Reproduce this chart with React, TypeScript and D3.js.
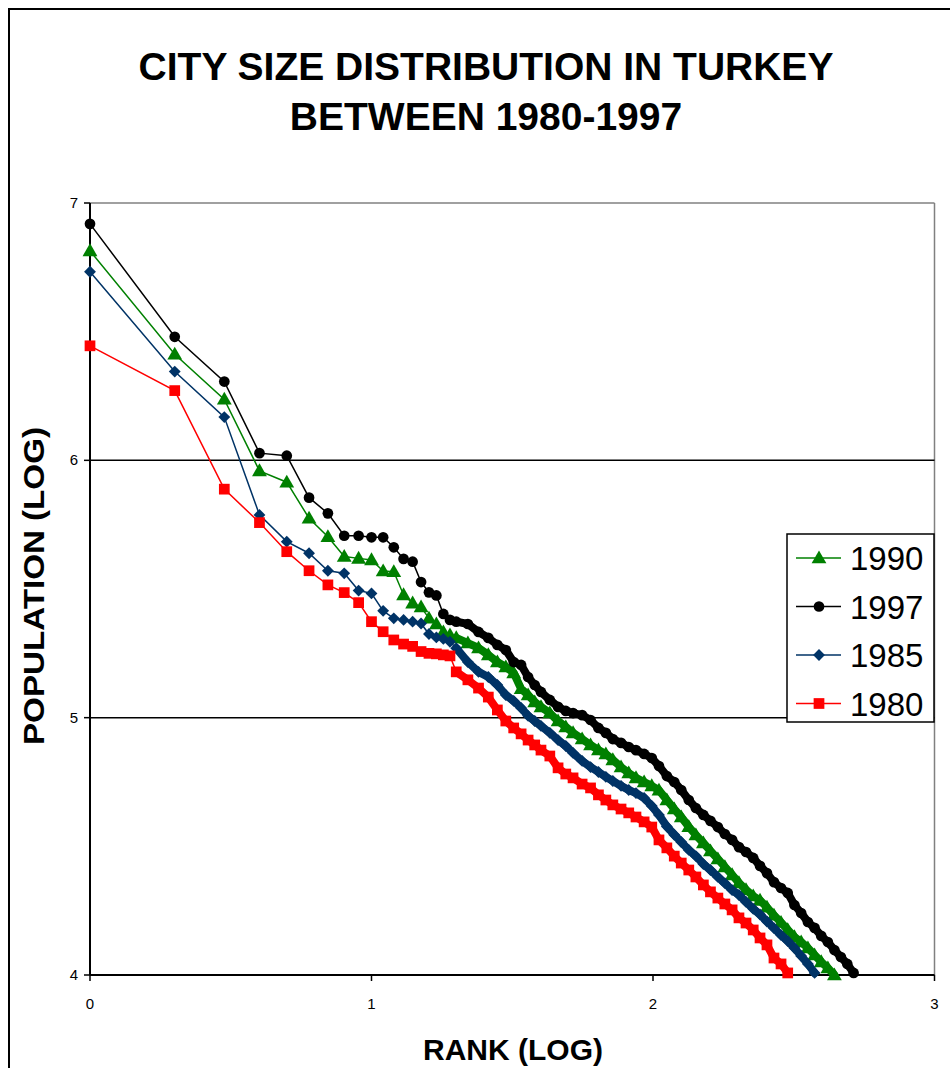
import React from 'react';
import * as d3 from 'd3';

// city ranks (sampled in the dense tail), and log10 population per series
const ranks = [1, 2, 3, 4, 5, 6, 7, 8, 9, 10, 11, 12, 13, 14, 15, 16, 17, 18, 19, 20,
  22, 24, 26, 28, 30, 32, 34, 36, 38, 40, 43, 46, 49, 52, 56, 60, 64, 68, 72, 77, 82, 87, 93, 99,
  105, 112, 119, 126, 134, 142, 151, 160, 170, 180, 191, 202, 214, 227, 240, 254, 269, 285, 301,
  318, 336, 355, 375, 396, 418, 441, 465, 490, 516];

const pop1990 = [6.814, 6.412, 6.237, 5.959, 5.915, 5.775, 5.703, 5.626, 5.619, 5.613, 5.570, 5.567,
  5.477, 5.445, 5.430, 5.386, 5.364, 5.333, 5.321, 5.310,
  5.290, 5.271, 5.244, 5.216, 5.197, 5.174, 5.112, 5.088, 5.061, 5.042, 5.018, 4.987, 4.964, 4.941,
  4.917, 4.894, 4.874, 4.859, 4.836, 4.808, 4.785, 4.766, 4.750, 4.735, 4.718, 4.680, 4.645, 4.614,
  4.576, 4.544, 4.513, 4.482, 4.451, 4.420, 4.389, 4.358, 4.331, 4.307, 4.290, 4.263, 4.232, 4.204,
  4.176, 4.148, 4.128, 4.105, 4.078, 4.051, 4.027, 4.000];

const pop1997 = [6.919, 6.480, 6.306, 6.028, 6.018, 5.855, 5.794, 5.707, 5.707, 5.701, 5.701, 5.662,
  5.617, 5.606, 5.527, 5.487, 5.475, 5.403, 5.380, 5.373,
  5.364, 5.333, 5.310, 5.283, 5.263, 5.216, 5.205, 5.158, 5.127, 5.100, 5.069, 5.042, 5.026, 5.018,
  5.010, 4.991, 4.960, 4.941, 4.917, 4.902, 4.886, 4.874, 4.859, 4.843, 4.812, 4.773, 4.750, 4.719,
  4.680, 4.649, 4.622, 4.599, 4.575, 4.548, 4.525, 4.497, 4.478, 4.455, 4.424, 4.396, 4.361, 4.338,
  4.319, 4.272, 4.241, 4.206, 4.183, 4.152, 4.128, 4.097, 4.070, 4.043, 4.008];

const pop1985 = [6.733, 6.345, 6.168, 5.788, 5.684, 5.639, 5.571, 5.561, 5.494, 5.483, 5.415, 5.386,
  5.380, 5.373, 5.366, 5.325, 5.312, 5.306, 5.295, 5.270,
  5.216, 5.178, 5.158, 5.127, 5.088, 5.065, 5.038, 5.007, 4.987, 4.968, 4.941, 4.913, 4.890, 4.863,
  4.832, 4.808, 4.789, 4.770, 4.754, 4.735, 4.719, 4.707, 4.688, 4.657, 4.622, 4.577, 4.545, 4.517,
  4.486, 4.462, 4.431, 4.408, 4.381, 4.357, 4.330, 4.311, 4.284, 4.257, 4.235, 4.208, 4.182, 4.155,
  4.132, 4.105, 4.074, 4.043, 4.008];

const pop1980 = [6.445, 6.271, 5.888, 5.758, 5.645, 5.571, 5.516, 5.486, 5.447, 5.373, 5.334, 5.302,
  5.286, 5.277, 5.257, 5.250, 5.248, 5.244, 5.240, 5.178,
  5.147, 5.115, 5.080, 5.030, 4.987, 4.960, 4.937, 4.913, 4.894, 4.874, 4.851, 4.805, 4.781, 4.766,
  4.742, 4.727, 4.700, 4.680, 4.661, 4.645, 4.630, 4.614, 4.595, 4.575, 4.525, 4.494, 4.462, 4.435,
  4.408, 4.381, 4.350, 4.323, 4.299, 4.276, 4.253, 4.222, 4.202, 4.175, 4.144, 4.117, 4.066, 4.043,
  4.008];

const xTicks = [0, 1, 2, 3];
const yTicks = [4, 5, 6, 7];

const series = [
  { name: '1990', values: pop1990, color: '#008000', shape: 'triangle' },
  { name: '1997', values: pop1997, color: '#000000', shape: 'circle' },
  { name: '1985', values: pop1985, color: '#003366', shape: 'diamond' },
  { name: '1980', values: pop1980, color: '#ff0000', shape: 'square' },
];

const width = 950;
const height = 1068;
const plot = { left: 90, right: 934.5, top: 203, bottom: 975 };
const font = 'Arial, "Liberation Sans", Helvetica, sans-serif';
const denseFrom = 20; // from this rank on the markers overlap into a solid band

const symbols = {
  triangle: d3.symbol().type(d3.symbolTriangle).size(95)(),
  circle: d3.symbol().type(d3.symbolCircle).size(90)(),
  diamond: d3.symbol().type(d3.symbolSquare).size(70)(),
  square: d3.symbol().type(d3.symbolSquare).size(115)(),
};

function Marker({ shape, color, x, y }) {
  const rot = shape === 'diamond' ? ' rotate(45)' : '';
  const dy = shape === 'triangle' ? 1 : 0;
  return <path d={symbols[shape]} transform={`translate(${x},${y + dy})${rot}`} fill={color} />;
}

export default function App() {
  const x = d3.scaleLinear().domain([0, 3]).range([plot.left, plot.right]);
  const y = d3.scaleLinear().domain([4, 7]).range([plot.bottom, plot.top]);

  const line = d3.line<[number, number]>()
    .x(d => x(Math.log10(d[0])))
    .y(d => y(d[1]));

  const legend = { x: 787, y: 534, w: 147, h: 188, row: 48.5 };

  return (
    <svg width={width} height={height} style={{ position: 'absolute', left: 0, top: 0, background: '#fff' }}>
      <rect x={9} y={9} width={width + 20} height={height + 20} fill="#fff" stroke="#000" strokeWidth={2} />

      <text x={486} y={80} textAnchor="middle" fontFamily={font} fontWeight="bold" fontSize={39}>
        CITY SIZE DISTRIBUTION IN TURKEY
      </text>
      <text x={486} y={130} textAnchor="middle" fontFamily={font} fontWeight="bold" fontSize={39}>
        BETWEEN 1980-1997
      </text>

      {/* plot frame and gridlines */}
      <line x1={plot.left} x2={plot.right} y1={plot.top} y2={plot.top} stroke="#808080" strokeWidth={1.5} />
      <line x1={plot.right} x2={plot.right} y1={plot.top} y2={plot.bottom} stroke="#808080" strokeWidth={1.5} />
      {yTicks.filter(t => t > 4 && t < 7).map(t => (
        <line key={t} x1={plot.left} x2={plot.right} y1={y(t)} y2={y(t)} stroke="#000" strokeWidth={1.5} />
      ))}

      {/* axes */}
      <line x1={plot.left} x2={plot.left} y1={plot.top} y2={plot.bottom} stroke="#000" strokeWidth={2} />
      <line x1={plot.left} x2={plot.right} y1={plot.bottom} y2={plot.bottom} stroke="#000" strokeWidth={2} />
      {yTicks.map(t => (
        <g key={t}>
          <line x1={plot.left - 6} x2={plot.left} y1={y(t)} y2={y(t)} stroke="#000" strokeWidth={1.5} />
          <text x={plot.left - 12} y={y(t) + 5} textAnchor="end" fontFamily={font} fontSize={15}>{t}</text>
        </g>
      ))}
      {xTicks.map(t => (
        <g key={t}>
          <line x1={x(t)} x2={x(t)} y1={plot.bottom} y2={plot.bottom + 6} stroke="#000" strokeWidth={1.5} />
          <text x={x(t)} y={plot.bottom + 34} textAnchor="middle" fontFamily={font} fontSize={15}>{t}</text>
        </g>
      ))}

      <text x={513} y={1060} textAnchor="middle" fontFamily={font} fontWeight="bold" fontSize={30}>
        RANK (LOG)
      </text>
      <text transform="translate(44,586) rotate(-90)" textAnchor="middle" fontFamily={font}
        fontWeight="bold" fontSize={30} textLength={318} lengthAdjust="spacingAndGlyphs">
        POPULATION (LOG)
      </text>

      {/* series */}
      {series.map(s => {
        const pts = s.values.map((v, i) => [ranks[i], v] as [number, number]);
        const dense = pts.filter(p => p[0] >= denseFrom);
        return (
          <g key={s.name}>
            <path d={line(pts) || ''} fill="none" stroke={s.color} strokeWidth={1.5} />
            <path d={line(dense) || ''} fill="none" stroke={s.color} strokeWidth={8}
              strokeLinejoin="round" strokeLinecap="round" />
            {pts.map((p, i) => (
              <Marker key={i} shape={s.shape} color={s.color} x={x(Math.log10(p[0]))} y={y(p[1])} />
            ))}
          </g>
        );
      })}

      {/* legend */}
      <rect x={legend.x} y={legend.y} width={legend.w} height={legend.h} fill="#fff" stroke="#000" strokeWidth={1.5} />
      {series.map((s, i) => {
        const cy = legend.y + 24 + i * legend.row;
        return (
          <g key={s.name}>
            <line x1={legend.x + 9} x2={legend.x + 54} y1={cy} y2={cy} stroke={s.color} strokeWidth={1.5} />
            <Marker shape={s.shape} color={s.color} x={legend.x + 32} y={cy} />
            <text x={legend.x + 63} y={cy + 12} fontFamily={font} fontSize={33}>{s.name}</text>
          </g>
        );
      })}
    </svg>
  );
}
